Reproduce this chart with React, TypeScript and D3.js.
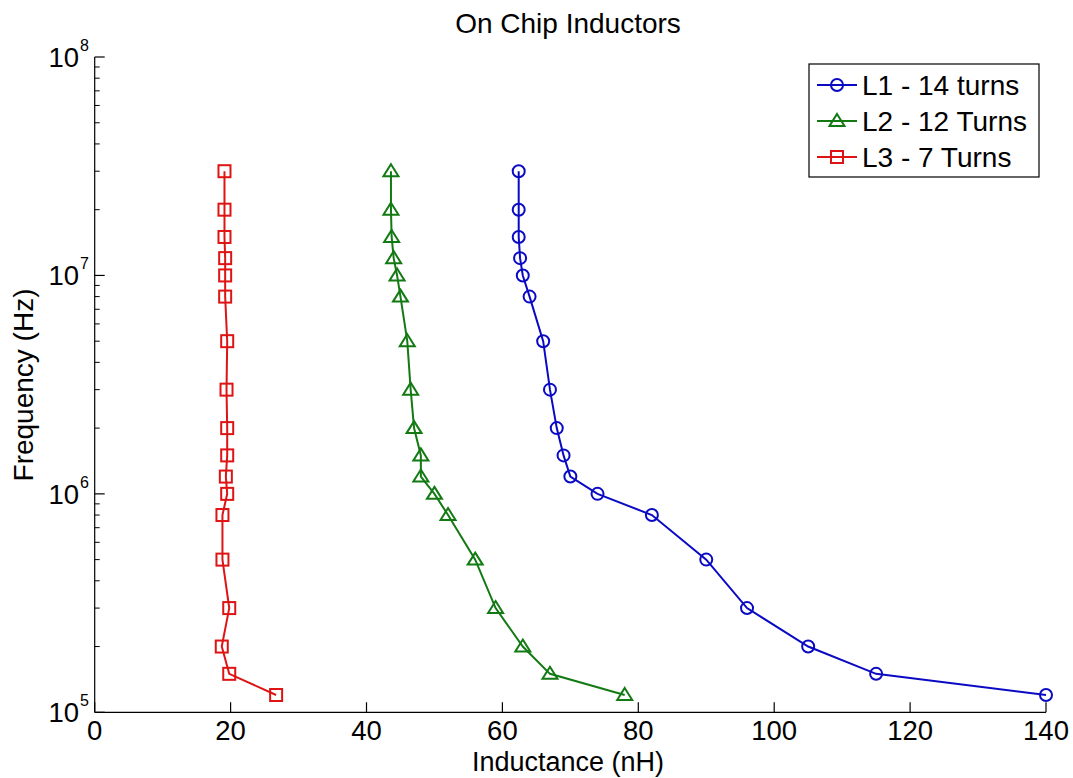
import React from "react";
import * as d3 from "d3";

// Measurement frequencies (Hz), shared by all three inductors
const frequencies = [
  1.2e5, 1.5e5, 2e5, 3e5, 5e5, 8e5, 1e6, 1.2e6, 1.5e6, 2e6, 3e6, 5e6, 8e6, 1e7,
  1.2e7, 1.5e7, 2e7, 3e7,
];

// Inductance (nH) at each frequency
const l1Values = [
  140, 115, 105, 96, 90, 82, 74, 70, 69, 68, 67, 66, 64, 63, 62.6, 62.4, 62.4, 62.4,
];
const l2Values = [
  78, 67, 63, 59, 56, 52, 50, 48, 48, 47, 46.5, 46, 45, 44.5, 44, 43.7, 43.6, 43.6,
];
const l3Values = [
  26.7, 19.8, 18.7, 19.8, 18.8, 18.8, 19.5, 19.3, 19.5, 19.5, 19.4, 19.5, 19.2,
  19.2, 19.2, 19.1, 19.1, 19.1,
];

const seriesNames = ["L1 - 14 turns", "L2 - 12 Turns", "L3 - 7 Turns"];
const xTicks = [0, 20, 40, 60, 80, 100, 120, 140];
const yDecades = [5, 6, 7, 8];

const WIDTH = 1073;
const HEIGHT = 778;
const FONT = "'Liberation Sans', Arial, Helvetica, sans-serif";
const FS = 28;

type MarkerKind = "circle" | "triangle" | "square";

const series: { name: string; values: number[]; color: string; marker: MarkerKind }[] = [
  { name: seriesNames[0], values: l1Values, color: "#0a0ac4", marker: "circle" },
  { name: seriesNames[1], values: l2Values, color: "#137a13", marker: "triangle" },
  { name: seriesNames[2], values: l3Values, color: "#de1414", marker: "square" },
];

function Marker({ kind, x, y, color }: { kind: MarkerKind; x: number; y: number; color: string }) {
  const common = { fill: "none", stroke: color, strokeWidth: 2 };
  if (kind === "circle") return <circle cx={x} cy={y} r={6} {...common} />;
  if (kind === "square") return <rect x={x - 6} y={y - 6} width={12} height={12} {...common} />;
  return (
    <path
      d={`M${x},${y - 7} L${x + 7.5},${y + 5} L${x - 7.5},${y + 5} Z`}
      {...common}
    />
  );
}

export default function App() {
  const x = d3.scaleLinear().domain([0, 140]).range([94.7, 1046]);
  const y = d3.scaleLog().domain([1e5, 1e8]).range([712.3, 57]);

  const line = d3
    .line<[number, number]>()
    .x((d) => x(d[0]))
    .y((d) => y(d[1]));

  // Minor log ticks 2..9 within each decade
  const minorTicks: number[] = [];
  for (let e = 5; e < 8; e++) {
    for (let m = 2; m <= 9; m++) minorTicks.push(m * Math.pow(10, e));
  }

  const x0 = x(0);
  const yBottom = y(1e5);

  return (
    <svg
      width={WIDTH}
      height={HEIGHT}
      style={{ position: "absolute", left: 0, top: 0, background: "#fff" }}
      fontFamily={FONT}
    >
      <rect x={0} y={0} width={WIDTH} height={HEIGHT} fill="#fff" />

      {/* Title */}
      <text x={568} y={33} textAnchor="middle" fontSize={FS} fill="#000">
        On Chip Inductors
      </text>

      {/* Axes lines */}
      <line x1={x0} x2={x(140)} y1={yBottom} y2={yBottom} stroke="#000" strokeWidth={1.2} />
      <line x1={x0} x2={x0} y1={y(1e8)} y2={yBottom} stroke="#000" strokeWidth={1.2} />

      {/* X ticks */}
      {xTicks.map((t) => (
        <g key={`xt${t}`}>
          <line x1={x(t)} x2={x(t)} y1={yBottom} y2={yBottom - 10} stroke="#000" strokeWidth={1.2} />
          <text x={x(t)} y={740} textAnchor="middle" fontSize={27.5} fill="#000">
            {t}
          </text>
        </g>
      ))}

      {/* Y major ticks and labels */}
      {yDecades.map((e) => {
        const yy = y(Math.pow(10, e));
        return (
          <g key={`yt${e}`}>
            <line x1={x0} x2={x0 + 10} y1={yy} y2={yy} stroke="#000" strokeWidth={1.2} />
            <text x={79} y={yy + 10} textAnchor="end" fontSize={27.5} fill="#000">
              10
            </text>
            <text x={80} y={yy - 6} textAnchor="start" fontSize={16} fill="#000">
              {e}
            </text>
          </g>
        );
      })}
      {minorTicks.map((t) => (
        <line
          key={`ym${t}`}
          x1={x0}
          x2={x0 + 5}
          y1={y(t)}
          y2={y(t)}
          stroke="#000"
          strokeWidth={1}
        />
      ))}

      {/* Axis labels */}
      <text x={568} y={771} textAnchor="middle" fontSize={27} fill="#000">
        Inductance (nH)
      </text>
      <text
        transform={`translate(33,385) rotate(-90)`}
        textAnchor="middle"
        fontSize={FS}
        fill="#000"
      >
        Frequency (Hz)
      </text>

      {/* Data series */}
      {series.map((s) => {
        const pts: [number, number][] = s.values.map((v, i) => [v, frequencies[i]]);
        return (
          <g key={s.name}>
            <path d={line(pts) || ""} fill="none" stroke={s.color} strokeWidth={2} />
            {pts.map((p, i) => (
              <Marker key={i} kind={s.marker} x={x(p[0])} y={y(p[1])} color={s.color} />
            ))}
          </g>
        );
      })}

      {/* Legend */}
      <rect x={809} y={64} width={230} height={113} fill="#fff" stroke="#000" strokeWidth={1.2} />
      {series.map((s, i) => {
        const cy = 85 + i * 36;
        return (
          <g key={`lg${i}`}>
            <line x1={817} x2={857} y1={cy} y2={cy} stroke={s.color} strokeWidth={2} />
            <Marker kind={s.marker} x={837} y={cy} color={s.color} />
            <text x={862} y={cy + 10} fontSize={FS} fill="#000">
              {s.name}
            </text>
          </g>
        );
      })}
    </svg>
  );
}
